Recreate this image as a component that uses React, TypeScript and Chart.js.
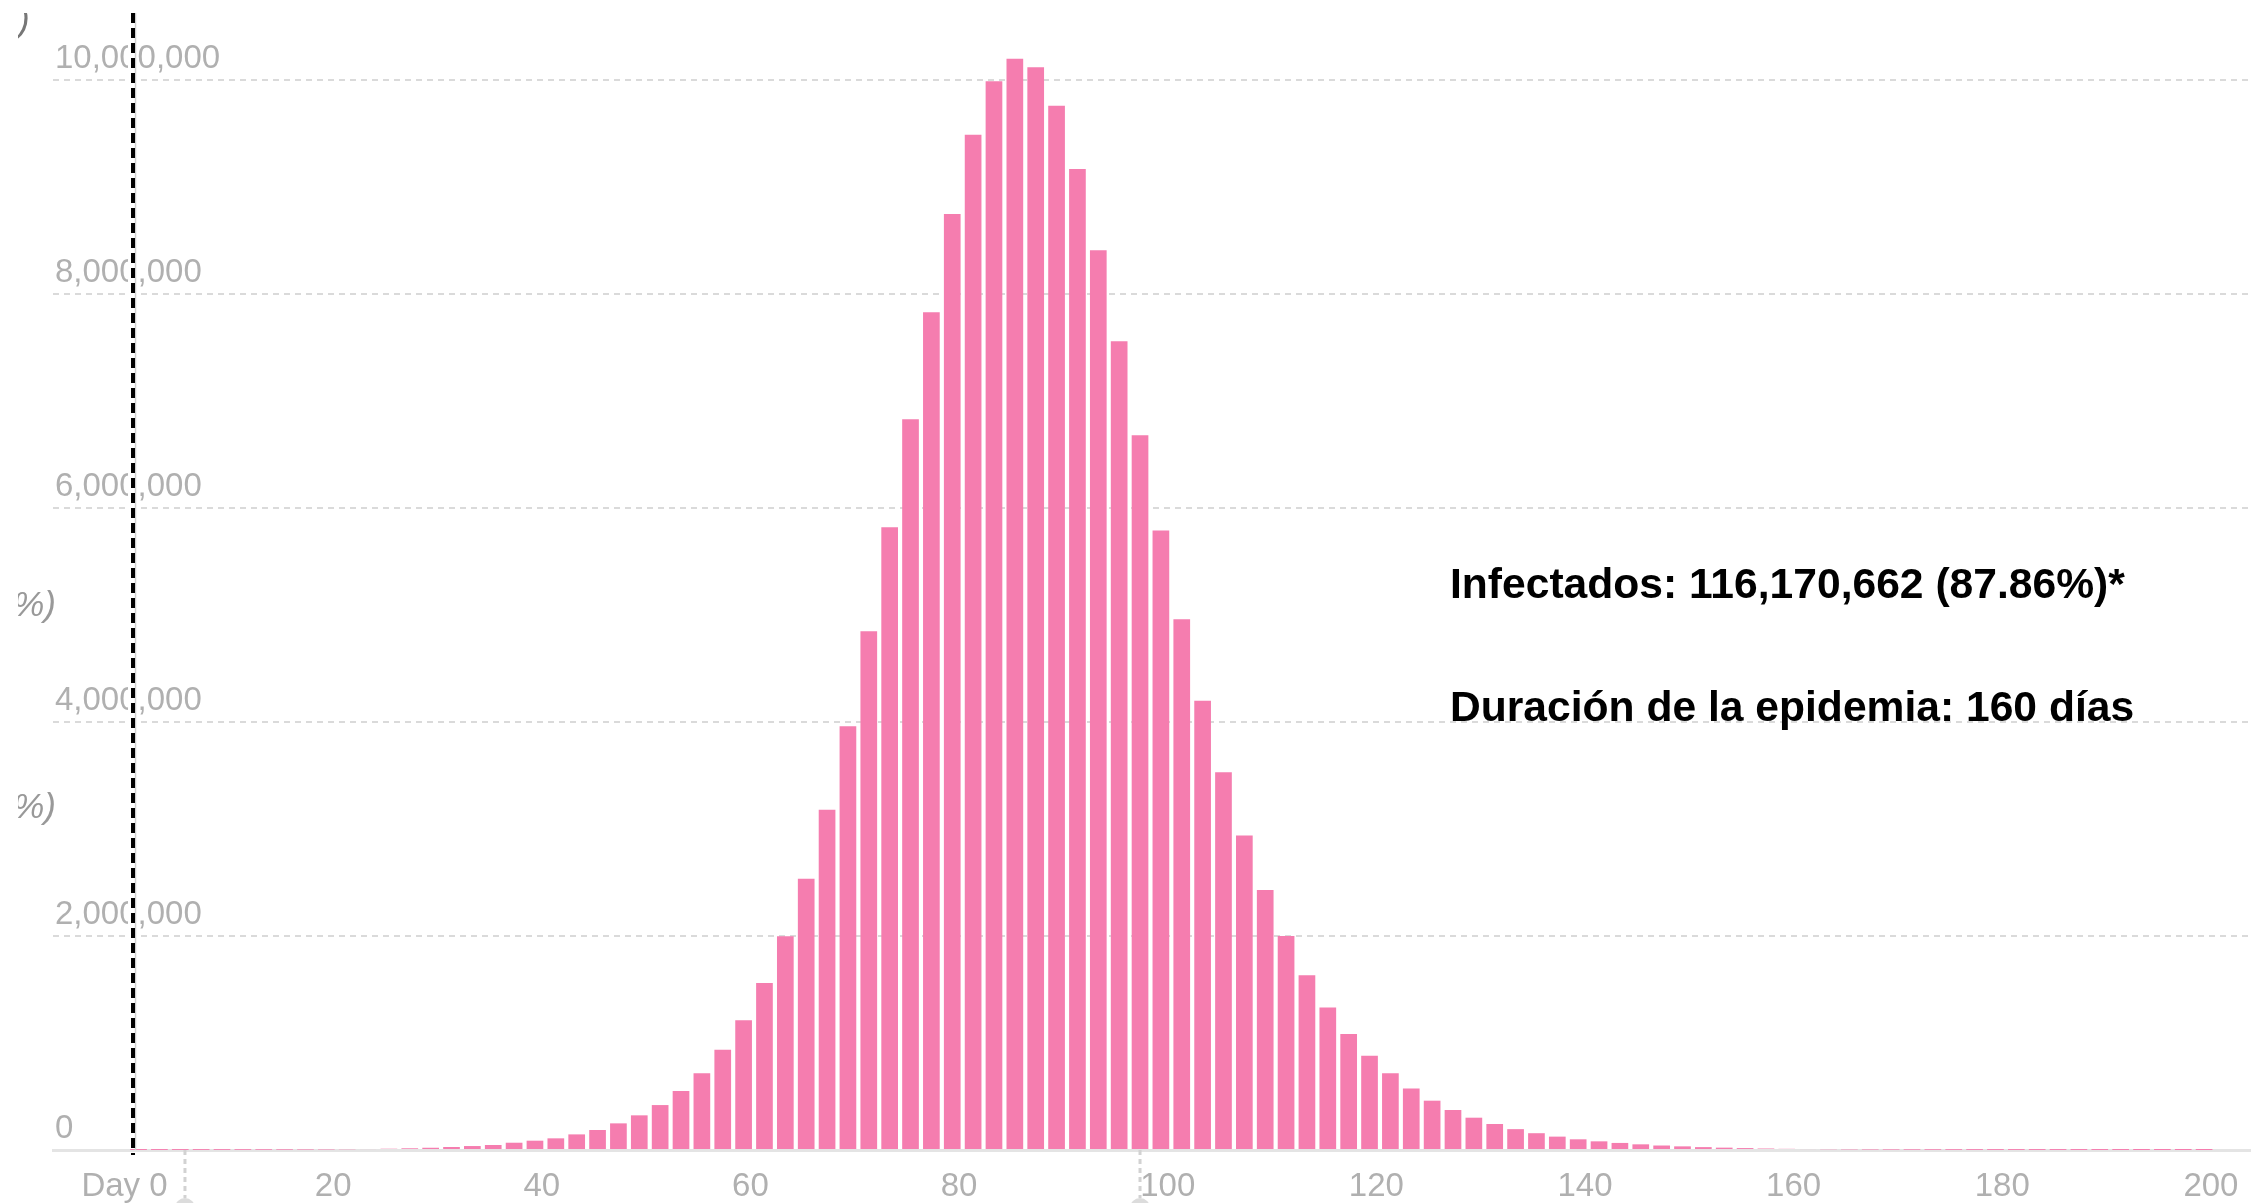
import React, { useEffect, useRef } from "react";
import { Chart, registerables } from "chart.js";

Chart.register(...registerables);

const FONT = "'Liberation Sans', Arial, Helvetica, sans-serif";

// Day (centre of each 2-day bar)
const days = [
  1, 3, 5, 7, 9, 11, 13, 15, 17, 19,
  21, 23, 25, 27, 29, 31, 33, 35, 37, 39,
  41, 43, 45, 47, 49, 51, 53, 55, 57, 59,
  61, 63, 65, 67, 69, 71, 73, 75, 77, 79,
  81, 83, 85, 87, 89, 91, 93, 95, 97, 99,
  101, 103, 105, 107, 109, 111, 113, 115, 117, 119,
  121, 123, 125, 127, 129, 131, 133, 135, 137, 139,
  141, 143, 145, 147, 149, 151, 153, 155, 157, 159,
  161, 163, 165, 167, 169, 171, 173, 175, 177, 179,
  181, 183, 185, 187, 189, 191, 193, 195, 197, 199,
];

// Infected people per bar
const infected = [
  500, 600, 800, 1000, 1300, 1700, 2200, 3000, 4000, 5000,
  6800, 9000, 12000, 16000, 21000, 28000, 37000, 47000, 68000, 87000,
  109000, 146000, 187000, 249000, 324000, 420000, 551000, 717000, 937000, 1212000,
  1561000, 1997000, 2536000, 3180000, 3960000, 4850000, 5820000, 6830000, 7830000, 8750000,
  9490000, 9990000, 10200000, 10120000, 9760000, 9170000, 8410000, 7560000, 6680000, 5790000,
  4960000, 4200000, 3530000, 2940000, 2430000, 2000000, 1633000, 1333000, 1084000, 882000,
  717000, 576000, 461000, 374000, 302000, 243000, 195000, 157000, 125000, 100000,
  81000, 66000, 53000, 42000, 34000, 27000, 22000, 18000, 14000, 11000,
  9000, 7000, 5600, 4500, 3600, 2900, 2300, 1800, 1400, 1100,
  900, 700, 600, 500, 400, 300, 250, 200, 160, 130,
];

const xTickValues = [0, 20, 40, 60, 80, 100, 120, 140, 160, 180, 200];
const yTickValues = [0, 2000000, 4000000, 6000000, 8000000, 10000000];

const dayZeroLine = 0.47;
const handleDays = [5.45, 97.0];

const summaryLines = [
  "Infectados: 116,170,662 (87.86%)*",
  "Duración de la epidemia: 160 días",
];

const overlayPlugin = {
  id: "overlayMarks",
  afterDatasetsDraw(chart: any) {
    const { ctx, scales, chartArea } = chart;
    const x = scales.x;
    ctx.save();
    // slider handles below the axis
    for (const d of handleDays) {
      const px = x.getPixelForValue(d);
      ctx.setLineDash([5, 4]);
      ctx.strokeStyle = "#d2d2d2";
      ctx.lineWidth = 3;
      ctx.beginPath();
      ctx.moveTo(px, chartArea.bottom);
      ctx.lineTo(px, chartArea.bottom + 48);
      ctx.stroke();
      ctx.setLineDash([]);
      ctx.fillStyle = "#dcdcdc";
      ctx.beginPath();
      ctx.arc(px, chartArea.bottom + 58, 10, 0, Math.PI * 2);
      ctx.fill();
    }
    // black dashed day-zero line
    const lx = x.getPixelForValue(dayZeroLine);
    ctx.fillStyle = "#ffffff";
    ctx.fillRect(lx - 5, 13, 10, chartArea.bottom - 16);
    ctx.strokeStyle = "#d0d0d0";
    ctx.lineWidth = 1.5;
    ctx.beginPath();
    ctx.moveTo(lx + 2.5, 13);
    ctx.lineTo(lx + 2.5, chartArea.bottom);
    ctx.stroke();
    ctx.strokeStyle = "#000000";
    ctx.lineWidth = 4;
    ctx.setLineDash([10, 5]);
    ctx.beginPath();
    ctx.moveTo(lx, 13);
    ctx.lineTo(lx, chartArea.bottom + 5);
    ctx.stroke();
    ctx.restore();
  },
};

export default function App() {
  const ref = useRef<HTMLCanvasElement>(null);

  useEffect(() => {
    if (!ref.current) return;
    const chart = new Chart(ref.current, {
      type: "bar",
      data: {
        datasets: [
          {
            label: "Infectados",
            data: days.map((d, i) => ({ x: d, y: infected[i] })),
            backgroundColor: "rgb(245,125,175)",
            borderWidth: 0,
            barPercentage: 0.8,
            categoryPercentage: 1.0,
          },
        ],
      },
      options: {
        responsive: false,
        devicePixelRatio: 1,
        animation: false,
        layout: { padding: { left: 53, right: 10, top: 16, bottom: 0 } },
        plugins: {
          legend: { display: false },
          tooltip: { enabled: false },
        },
        scales: {
          x: {
            type: "linear",
            offset: false,
            min: -7.2,
            max: 203.4,
            grid: { display: false },
            border: { display: true, color: "#e4e4e4", width: 3 },
            ticks: {
              color: "#b0b0b0",
              font: { family: FONT, size: 33 },
              padding: 9,
              labelOffset: -3.6,
              maxRotation: 0,
              autoSkip: false,
              callback: (v: any) => (Number(v) === 0 ? "Day 0" : String(v)),
            },
            afterBuildTicks: (s: any) => {
              s.ticks = xTickValues.map((v) => ({ value: v }));
            },
            afterFit: (s: any) => {
              s.height = 53;
              s.paddingLeft = 0;
              s.paddingRight = 0;
            },
          },
          y: {
            type: "linear",
            min: 0,
            max: 10600000,
            grid: {
              drawTicks: false,
              lineWidth: 2,
              color: (c: any) =>
                c.tick && c.tick.value === 0 ? "rgba(0,0,0,0)" : "#dadada",
            },
            border: { display: false, dash: [6, 5] },
            ticks: {
              mirror: true,
              padding: 2,
              labelOffset: -21,
              color: "#b0b0b0",
              font: { family: FONT, size: 33 },
              callback: (v: any) => Number(v).toLocaleString("en-US"),
            },
            afterBuildTicks: (s: any) => {
              s.ticks = yTickValues.map((v) => ({ value: v }));
            },
            afterFit: (s: any) => {
              s.width = 0;
              s.paddingTop = 0;
              s.paddingBottom = 0;
            },
          },
        },
      },
      plugins: [overlayPlugin],
    } as any);
    return () => chart.destroy();
  }, []);

  const fragStyle: React.CSSProperties = {
    position: "absolute",
    fontFamily: FONT,
    fontStyle: "italic",
    fontSize: 35,
    lineHeight: "40px",
    whiteSpace: "nowrap",
  };

  return (
    <div
      style={{
        position: "absolute",
        left: 0,
        top: 0,
        width: 2260,
        height: 1203,
        background: "#ffffff",
        overflow: "hidden",
      }}
    >
      <canvas
        ref={ref}
        width={2260}
        height={1203}
        style={{ position: "absolute", left: 0, top: 0, width: 2260, height: 1203 }}
      />
      <div
        style={{
          position: "absolute",
          left: 18,
          top: 13,
          width: 50,
          height: 900,
          overflow: "hidden",
        }}
      >
        <span style={{ ...fragStyle, left: 0, top: -13, color: "#777" }}>)</span>
        <span style={{ ...fragStyle, right: 12, top: 571, color: "#999" }}>%)</span>
        <span style={{ ...fragStyle, right: 12, top: 773, color: "#999" }}>%)</span>
      </div>
      {summaryLines.map((t, i) => (
        <div
          key={i}
          style={{
            position: "absolute",
            left: 1450,
            top: i === 0 ? 558 : 681,
            fontFamily: FONT,
            fontWeight: "bold",
            fontSize: 42.6,
            lineHeight: "50px",
            whiteSpace: "nowrap",
            color: "#000",
          }}
        >
          {t}
        </div>
      ))}
    </div>
  );
}
